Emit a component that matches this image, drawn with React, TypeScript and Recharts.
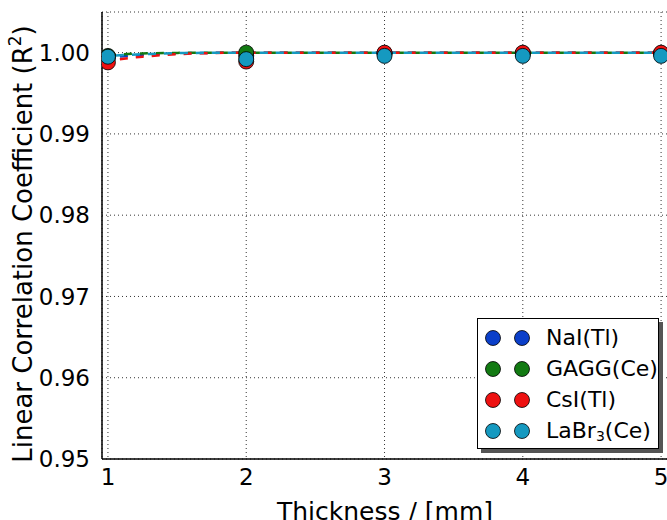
import { ComposedChart, Scatter, Line, XAxis, YAxis, CartesianGrid } from 'recharts';

// measured points (thickness in mm)
const thickness = [1, 2, 3, 4, 5];
const naiR2 = [0.9994, 0.9996, 0.9999, 0.9999, 0.9999];
const gaggR2 = [0.9996, 1.0, 0.9999, 0.9999, 0.9999];
const csiR2 = [0.9988, 0.9989, 1.0, 1.0, 1.0];
const labrR2 = [0.9995, 0.9992, 0.9996, 0.9996, 0.9996];

// fitted trend curves (dashed)
const fitX = [1, 1.25, 1.5, 1.75, 2, 3, 4, 5];
const naiFit = [0.9994, 0.9997, 0.9999, 0.99997, 1.0, 1.0, 1.0, 1.0];
const gaggFit = [0.9997, 0.9999, 0.99997, 1.0, 1.0, 1.0, 1.0, 1.0];
const csiFit = [0.9990, 0.9995, 0.9998, 0.99995, 1.0, 1.0, 1.0, 1.0];
const labrFit = [0.9996, 0.9998, 0.99995, 0.99998, 1.0, 1.0, 1.0, 1.0];

const xTicks = [1, 2, 3, 4, 5];
const yTicks = [0.95, 0.96, 0.97, 0.98, 0.99, 1.0];

const SERIES = [
    { name: 'NaI(Tl)', color: '#0b3fc9', points: naiR2, fit: 'nai' },
    { name: 'GAGG(Ce)', color: '#127a12', points: gaggR2, fit: 'gagg' },
    { name: 'CsI(Tl)', color: '#ee1111', points: csiR2, fit: 'csi' },
    { name: 'LaBr3(Ce)', color: '#1599c0', points: labrR2, fit: 'labr' },
];

const fitData = fitX.map((x, i) => ({
    x,
    nai: naiFit[i],
    gagg: gaggFit[i],
    csi: csiFit[i],
    labr: labrFit[i],
}));

const FONT = '"DejaVu Sans", sans-serif';

const Marker = (props: any) => {
    const { cx, cy, fill } = props;
    return <circle cx={cx} cy={cy} r={7.5} fill={fill} stroke="#000" strokeWidth={0.8} />;
};

const LegendBox = () => (
    <div
        style={{
            position: 'absolute',
            left: 477,
            top: 318,
            width: 182,
            height: 131,
            background: '#fff',
            border: '1.5px solid #000',
            boxShadow: '4px 4px 0 #555',
            fontFamily: FONT,
            fontSize: 22,
            boxSizing: 'border-box',
        }}
    >
        {SERIES.map((s, i) => (
            <div
                key={s.name}
                style={{ position: 'absolute', left: 0, top: 3 + i * 31, height: 31, display: 'flex', alignItems: 'center' }}
            >
                <svg width={62} height={20} style={{ marginLeft: 6 }}>
                    <circle cx={9} cy={10} r={7.5} fill={s.color} stroke="#000" strokeWidth={0.8} />
                    <circle cx={38} cy={10} r={7.5} fill={s.color} stroke="#000" strokeWidth={0.8} />
                </svg>
                <span style={{ whiteSpace: 'nowrap' }}>
                    {s.name === 'LaBr3(Ce)' ? (
                        <>
                            LaBr<sub style={{ fontSize: 14, verticalAlign: -3 }}>3</sub>(Ce)
                        </>
                    ) : (
                        s.name
                    )}
                </span>
            </div>
        ))}
    </div>
);

const YLabel = () => (
    <text
        x={32}
        y={244}
        transform="rotate(-90 32 244)"
        textAnchor="middle"
        fontFamily={FONT}
        fontSize={26}
        fill="#000"
    >
        Linear Correlation Coefficient (R
        <tspan fontSize={17} dy={-11}>2</tspan>
        <tspan dy={11}>)</tspan>
    </text>
);

export default function App() {
    return (
        <div style={{ position: 'absolute', left: 0, top: 0, width: 667, height: 520, overflow: 'hidden', background: '#fff' }}>
            <ComposedChart
                width={672}
                height={520}
                data={fitData}
                margin={{ top: 12, right: 4, bottom: 0, left: 0 }}
                style={{ fontFamily: FONT }}
            >
                <CartesianGrid stroke="#000" strokeDasharray="1 3" strokeWidth={0.8} />
                <XAxis
                    dataKey="x"
                    type="number"
                    domain={[0.957, 5.05]}
                    ticks={xTicks}
                    allowDataOverflow
                    height={61}
                    tickLine={false}
                    axisLine={{ stroke: '#000', strokeWidth: 1.5 }}
                    tick={{ fill: '#000', fontSize: 23, fontFamily: FONT }}
                    tickMargin={4}
                    label={{ value: 'Thickness / [mm]', position: 'insideBottom', offset: 0, fill: '#000', fontSize: 25, fontFamily: FONT }}
                />
                <XAxis
                    xAxisId="top"
                    orientation="top"
                    type="number"
                    domain={[0.957, 5.05]}
                    height={0}
                    tick={false}
                    tickLine={false}
                    axisLine={{ stroke: '#000', strokeWidth: 1.5 }}
                />
                <YAxis
                    type="number"
                    domain={[0.95, 1.005]}
                    ticks={yTicks}
                    allowDataOverflow
                    width={102}
                    tickLine={false}
                    axisLine={{ stroke: '#000', strokeWidth: 1.5 }}
                    tick={{ fill: '#000', fontSize: 23, fontFamily: FONT }}
                    tickMargin={6}
                    tickFormatter={(v: number) => v.toFixed(2)}
                    label={<YLabel />}
                />
                {SERIES.map((s, i) => (
                    <Line
                        key={`fit-${s.fit}`}
                        dataKey={s.fit}
                        type="monotone"
                        stroke={s.color}
                        strokeWidth={2.5}
                        strokeDasharray="8 8"
                        strokeDashoffset={i % 2 === 0 ? 4 : 8 * (i - 1) / 2}
                        dot={false}
                        activeDot={false}
                        isAnimationActive={false}
                    />
                ))}
                {SERIES.map((s) => (
                    <Scatter
                        key={s.name}
                        name={s.name}
                        data={thickness.map((x, i) => ({ x, y: s.points[i] }))}
                        dataKey="y"
                        fill={s.color}
                        shape={<Marker />}
                        isAnimationActive={false}
                    />
                ))}
            </ComposedChart>
            <LegendBox />
        </div>
    );
}
